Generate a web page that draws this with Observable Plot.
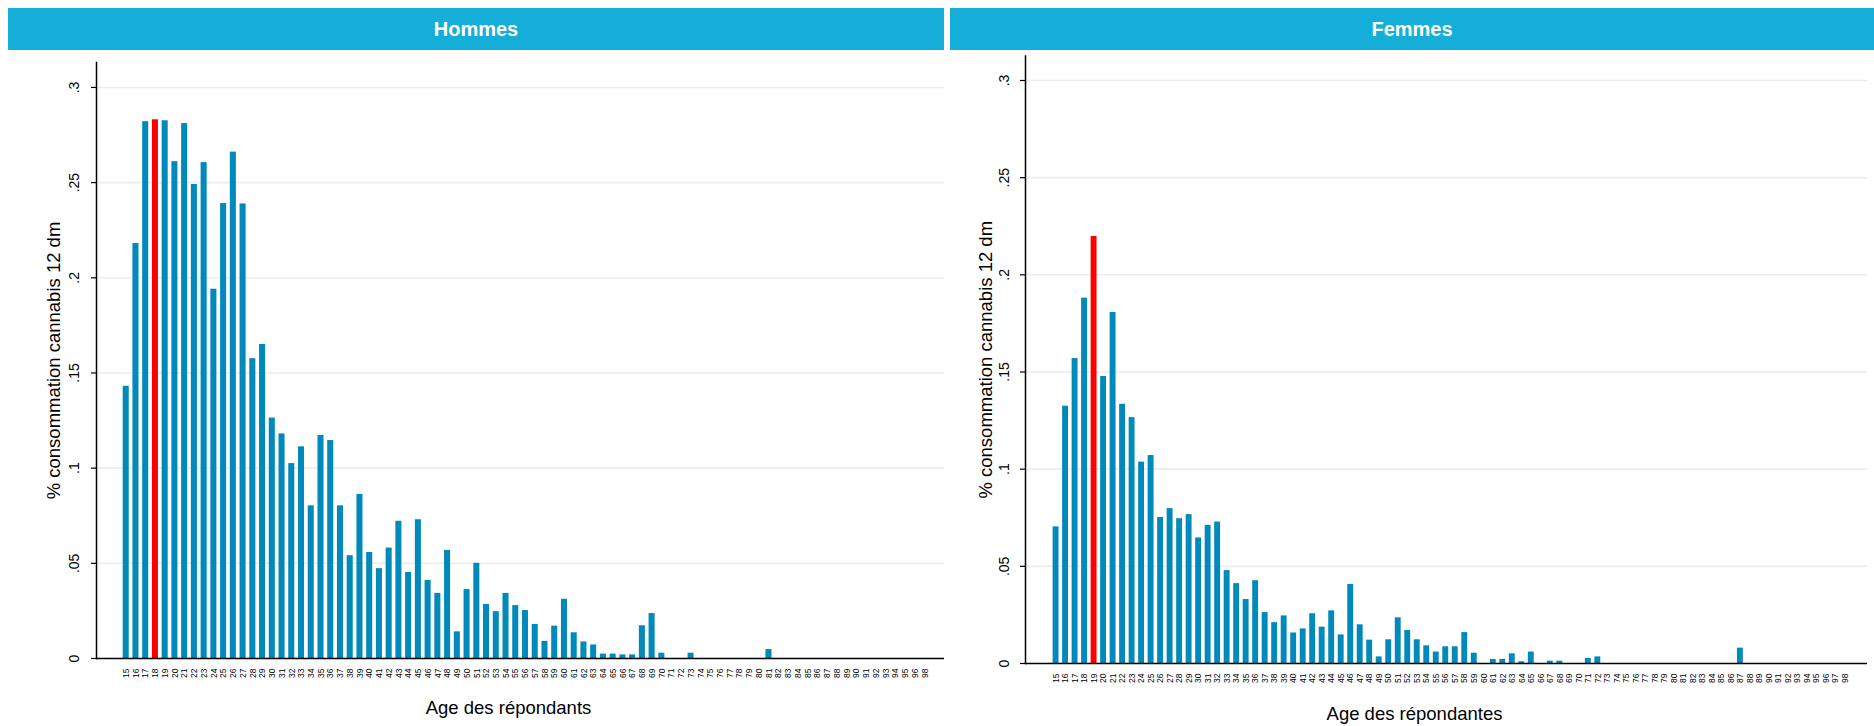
<!DOCTYPE html>
<html>
<head>
<meta charset="utf-8">
<script src="https://cdn.jsdelivr.net/npm/d3@7"></script>
<script src="https://cdn.jsdelivr.net/npm/@observablehq/plot@0.6"></script>
<style>
  body { margin: 0; background: #fff; font-family: "Liberation Sans", Arial, sans-serif; }
  #fig { position: relative; width: 1874px; height: 726px; overflow: hidden; background: #fff; }
  .strip { position: absolute; top: 8px; height: 42px; background: #14aed8; color: #fff;
           font-weight: bold; font-size: 20px; display: flex; align-items: center; justify-content: center; }
  .panel { position: absolute; top: 50px; }
</style>
</head>
<body>
<div id="fig"></div>
<script>
// Ages (x categories) and share of cannabis use in the last 12 months
const hommesAges = [15,16,17,18,19,20,21,22,23,24,25,26,27,28,29,30,31,32,33,34,35,36,37,38,39,40,
  41,42,43,44,45,46,47,48,49,50,51,52,53,54,55,56,57,58,59,60,61,62,63,64,65,66,67,68,69,70,
  71,72,73,74,75,76,77,78,79,80,81,82,83,84,85,86,87,88,89,90,91,92,93,94,95,96,98];
const hommesValues = [0.143,0.218,0.282,0.283,0.2825,0.261,0.281,0.249,0.2605,0.194,0.239,0.266,0.2388,
  0.1575,0.165,0.1263,0.118,0.1024,0.1112,0.0802,0.1172,0.1145,0.0802,0.054,0.0862,0.0557,
  0.0472,0.058,0.0721,0.0452,0.0729,0.041,0.0342,0.0568,0.014,0.0362,0.05,0.0284,0.0246,0.0342,
  0.0278,0.0252,0.0179,0.009,0.017,0.0311,0.0135,0.0087,0.0071,0.0023,0.0023,0.0019,0.0019,
  0.0172,0.0236,0.0028,
  0,0,0.0028,0,0,0,0,0,0,0,0.0047,0,0,0,0,0,0,0,0,0,0,0,0,0,0,0,0];

const femmesAges = [15,16,17,18,19,20,21,22,23,24,25,26,27,28,29,30,31,32,33,34,35,36,37,38,39,40,
  41,42,43,44,45,46,47,48,49,50,51,52,53,54,55,56,57,58,59,60,61,62,63,64,65,66,67,68,69,70,
  71,72,73,74,75,76,77,78,79,80,81,82,83,84,85,86,87,88,89,90,91,92,93,94,95,96,97,98];
const femmesValues = [0.0703,0.1324,0.1569,0.188,0.2197,0.1477,0.1806,0.1334,0.1265,0.1036,0.107,
  0.0751,0.0797,0.0745,0.0766,0.0646,0.0711,0.0728,0.0478,0.0411,0.0329,0.0426,0.0262,0.021,
  0.0245,0.0157,0.0178,0.0256,0.0187,0.0271,0.0147,0.0407,0.0199,0.012,0.0034,0.0122,0.0235,
  0.017,0.0122,0.0091,0.0059,0.0086,0.0086,0.0159,0.0053,
  0,0.0021,0.0021,0.005,0.0009,0.0059,0,0.0012,0.0012,0,0,0.0026,0.0034,
  0,0,0,0,0,0,0,0,0,0,0,0,0,0,0.0079,0,0,0,0,0,0,0,0,0,0,0];

// Highlighted age in each panel
const hommesHighlight = 18;
const femmesHighlight = 19;

const panelTitles = ["Hommes", "Femmes"];
const yTitle = "% consommation cannabis 12 dm";
const xTitles = ["Age des répondants", "Age des répondantes"];
const yTicks = [0, 0.05, 0.1, 0.15, 0.2, 0.25, 0.3];

const BAR = "#0089bb";
const HIGHLIGHT = "#ff0000";
const GRID = "#e7eff1";
const fmtTick = d => d === 0 ? "0" : String(d).replace(/^0/, "");

function panel(o) {
  const data = o.ages.map((a, i) => ({age: String(a), value: o.values[i]}));
  const hl = String(o.highlight);
  return Plot.plot({
    width: o.width, height: 676,
    marginLeft: o.ml, marginRight: o.mr, marginTop: o.mt, marginBottom: o.mb,
    style: {fontFamily: "'Liberation Sans', Arial, sans-serif", color: "#000", background: "transparent"},
    x: {type: "band", domain: data.map(d => d.age), range: o.xRange, padding: 0.38, axis: null},
    y: {domain: [0, o.yMax], axis: null},
    marks: [
      Plot.gridY(yTicks.filter(t => t > 0), {stroke: GRID, strokeOpacity: 1, strokeWidth: 1.6}),
      Plot.barY(data.filter(d => d.age !== hl), {x: "age", y: "value", fill: BAR}),
      Plot.barY(data.filter(d => d.age === hl), {x: "age", y: "value", fill: HIGHLIGHT}),
      Plot.ruleY([0], {stroke: "#000", strokeWidth: 1.5}),
      Plot.frame({anchor: "left", stroke: "#000", strokeWidth: 1.5}),
      Plot.axisY(yTicks, {tickSize: 5, tickFormat: () => "", label: null, strokeWidth: 1.2}),
      Plot.text(yTicks, {y: d => d, frameAnchor: "left", dx: o.tickDx, rotate: -90, text: fmtTick,
        fontSize: 14, textAnchor: "middle", lineAnchor: "middle"}),
      Plot.axisX({tickSize: 0, tickRotate: -90, fontSize: 8.5, tickPadding: 10, label: null}),
      Plot.text([yTitle], {frameAnchor: "left", dx: o.yTitleDx, rotate: -90, fontSize: 18.5,
        textAnchor: "middle", lineAnchor: "middle"}),
      Plot.text([o.xTitle], {frameAnchor: "bottom", dx: o.xTitleDx, dy: o.xTitleDy, fontSize: 18.5,
        textAnchor: "middle", lineAnchor: "middle"})
    ]
  });
}

const fig = document.getElementById("fig");

function addStrip(text, left, width) {
  const s = document.createElement("div");
  s.className = "strip";
  s.style.left = left + "px";
  s.style.width = width + "px";
  s.textContent = text;
  fig.appendChild(s);
}
addStrip(panelTitles[0], 8, 936);
addStrip(panelTitles[1], 950, 924);

const left = document.createElement("div");
left.className = "panel";
left.style.left = "0px";
left.appendChild(panel({
  ages: hommesAges, values: hommesValues, highlight: hommesHighlight,
  width: 950, ml: 96, mr: 6, mt: 12, mb: 68, yMax: 0.3131,
  xRange: [119, 931], tickDx: -22, yTitleDx: -42, xTitle: xTitles[0], xTitleDx: -12, xTitleDy: 49.5
}));
fig.appendChild(left);

const right = document.createElement("div");
right.className = "panel";
right.style.left = "950px";
right.appendChild(panel({
  ages: femmesAges, values: femmesValues, highlight: femmesHighlight,
  width: 924, ml: 75, mr: 7, mt: 5.5, mb: 63, yMax: 0.3126,
  xRange: [99, 901], tickDx: -21, yTitleDx: -39, xTitle: xTitles[1], xTitleDx: -32, xTitleDy: 50.5
}));
fig.appendChild(right);
</script>
</body>
</html>
